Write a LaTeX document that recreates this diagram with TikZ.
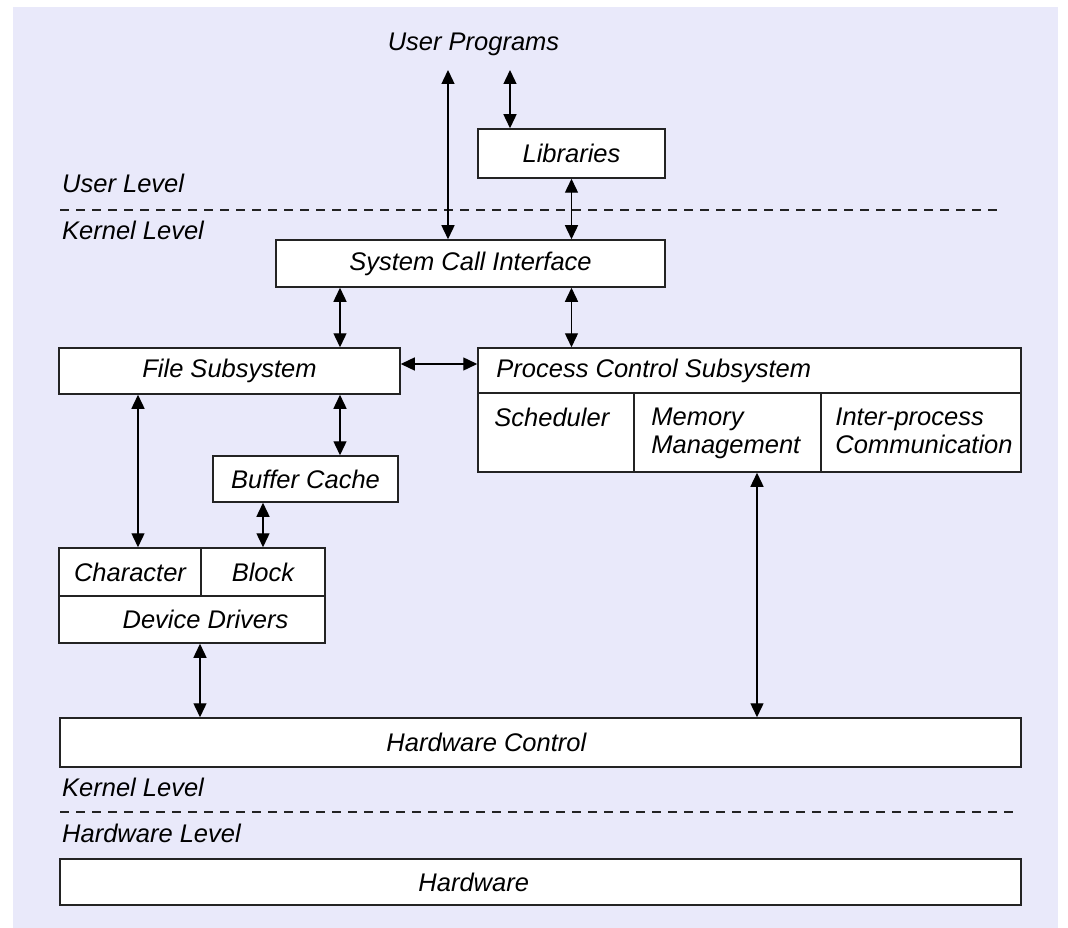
\documentclass[tikz,border=0pt]{standalone}
\usepackage{fontspec}
\setmainfont{Liberation Sans}
\usetikzlibrary{arrows.meta,positioning,calc}
\definecolor{PanelBg}{RGB}{233,233,250}
\definecolor{LineGrey}{RGB}{35,35,35}

\begin{document}
\begin{tikzpicture}[x=1pt,y=-1pt,
  box/.style={draw=LineGrey,fill=white,line width=1.5pt,inner sep=0pt,
              font=\itshape\fontsize{25.5}{28}\selectfont},
  txt/.style={inner sep=0pt,text=black,font=\itshape\fontsize{25.5}{28}\selectfont},
  link/.style={{Triangle[length=14pt,width=13pt]}-{Triangle[length=14pt,width=13pt]},
               line width=1.4pt,draw=black},
  levelline/.style={draw=LineGrey,line width=1.2pt,dash pattern=on 9pt off 7pt},
]
\useasboundingbox (0,0) rectangle (1068,928);
\fill[PanelBg] (13,7) rectangle (1058,928);

% levels
\node[txt,anchor=west] (userlvl) at (62,183) {User Level};
\node[txt,anchor=west] (kernlvl) at (62,230) {Kernel Level};
\draw[levelline] (60,210) -- (1000,210);
\node[txt,anchor=west] (kernlvl2) at (62,787) {Kernel Level};
\node[txt,anchor=west] (hwlvl) at (62,833) {Hardware Level};
\draw[levelline] (60,812) -- (1013,812);

% boxes
\node[txt] (progs) at (473.5,44) {User Programs};
\node[box,minimum width=187pt,minimum height=49pt] (lib) at (571.5,153.5) {Libraries};
\node[box,minimum width=389pt,minimum height=47pt] (sci) at (470.5,263.5) {System Call Interface};
\node[box,minimum width=341pt,minimum height=46pt] (fs) at (229.5,371) {File Subsystem};
\node[box,minimum width=185pt,minimum height=46pt] (bc) at (305.5,479) {Buffer Cache};

\node[box,minimum width=543pt,minimum height=45pt] (pcs) at (749.5,370.5) {};
\node[box,minimum width=156pt,minimum height=79pt] (sched) at (556,432.5) {};
\node[box,minimum width=187pt,minimum height=79pt] (mem) at (727.5,432.5) {};
\node[box,minimum width=200pt,minimum height=79pt] (ipc) at (921,432.5) {};
\node[txt,anchor=west] (pcstext) at ([xshift=19pt]pcs.west) {Process Control Subsystem};
\node[txt,anchor=north west] (schedtext) at ([shift={(17pt,-16pt)}]sched.north west) {Scheduler};
\node[txt,anchor=north west,align=left] (memtext) at ([shift={(18pt,-16pt)}]mem.north west) {Memory\\Management};
\node[txt,anchor=north west,align=left] (ipctext) at ([shift={(15pt,-16pt)}]ipc.north west) {Inter-process\\Communication};

\node[box,minimum width=142pt,minimum height=48pt] (chr) at (130,572) {Character};
\node[box,minimum width=124pt,minimum height=48pt] (blk) at (263,572) {Block};
\node[box,minimum width=266pt,minimum height=47pt] (dd) at (192,619.5) {};
\node[txt] (ddtext) at ([xshift=13.5pt]dd.center) {Device Drivers};

\node[box,minimum width=961pt,minimum height=49pt] (hwc) at (540.5,742.5) {};
\node[txt,anchor=west] (hwctext) at ([xshift=327pt]hwc.west) {Hardware Control};
\node[box,minimum width=961pt,minimum height=46pt] (hw) at (540.5,882) {};
\node[txt,anchor=west] (hwtext) at ([xshift=359pt]hw.west) {Hardware};

% arrow columns
\coordinate (upA) at (448,70);
\coordinate (upB) at (510,70);
\coordinate (colA) at (138,0);
\coordinate (colB) at (340,0);
\coordinate (colC) at (200,0);
\coordinate (colD) at (757,0);

\draw[link] (upA) -- (upA |- sci.north);
\draw[link] (upB) -- (upB |- lib.north);
\draw[link] (lib.south) -- (lib.south |- sci.north);
\draw[link] (sci.south -| colB) -- (fs.north -| colB);
\draw[link] (sci.south -| lib) -- (pcs.north -| lib);
\draw[link] ([yshift=7pt]fs.east) -- ([yshift=7pt]fs.east -| pcs.west);
\draw[link] (fs.south -| colA) -- (chr.north -| colA);
\draw[link] (fs.south -| colB) -- (bc.north -| colB);
\draw[link] (bc.south -| blk) -- (blk.north);
\draw[link] (dd.south -| colC) -- (hwc.north -| colC);
\draw[link] (mem.south -| colD) -- (hwc.north -| colD);
\end{tikzpicture}
\end{document}
